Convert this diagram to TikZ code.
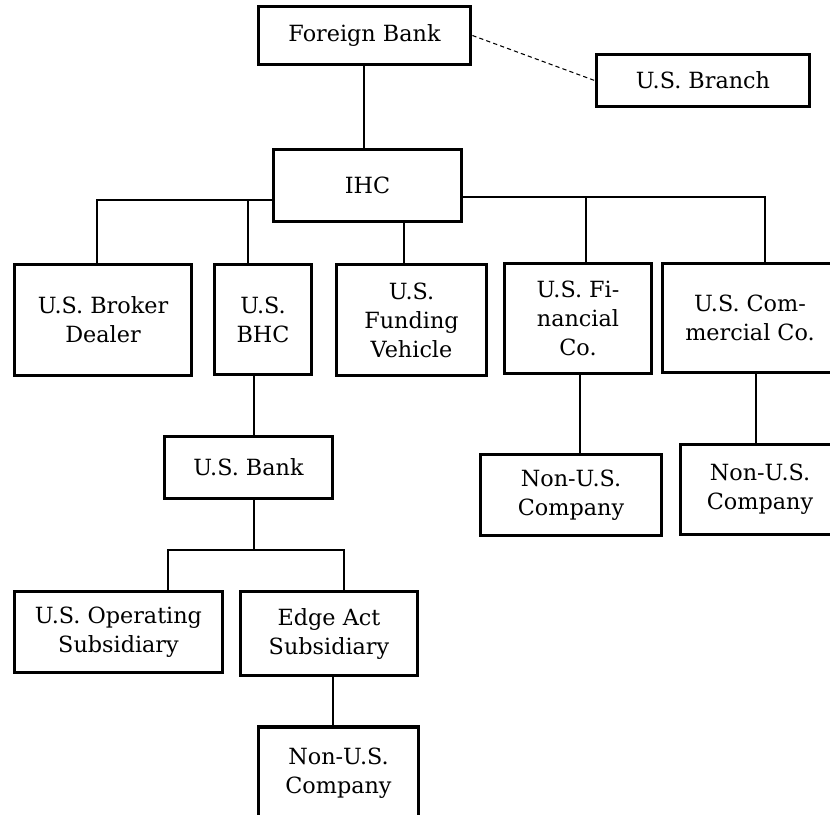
\documentclass[tikz,border=0pt]{standalone}
\usepackage{fontspec}
\setmainfont{DejaVu Serif}
\usepackage{tikz}
\usetikzlibrary{calc}
\tikzset{
  box/.style={draw=black, line width=2.2pt, align=center, inner sep=0pt, font=\fontsize{12.7}{16.5}\selectfont},
  link/.style={black, line width=1.2pt},
  dashlink/.style={black, line width=0.6pt, dash pattern=on 2.4pt off 1.8pt}}

\begin{document}
\begin{tikzpicture}[x=0.02cm, y=-0.02cm]
\clip (0,0) rectangle (830,814);
\node[box, minimum width=4.24cm, minimum height=1.16cm] (fb) at (364.5,35.5) {Foreign Bank};
\node[box, minimum width=4.26cm, minimum height=1.04cm] (branch) at (703,80.5) {U.S. Branch};
\node[box, minimum width=3.76cm, minimum height=1.44cm] (ihc) at (367.5,185.5) {IHC};
\node[box, minimum width=3.54cm, minimum height=2.22cm] (broker) at (103,320) {U.S. Broker\\Dealer};
\node[box, minimum width=1.94cm, minimum height=2.2cm] (bhc) at (263,319.5) {U.S.\\BHC};
\node[box, minimum width=3.0cm, minimum height=2.22cm] (funding) at (411.5,320) {U.S.\\Funding\\Vehicle};
\node[box, minimum width=2.94cm, minimum height=2.2cm] (fin) at (578,318.5) {U.S. Fi-\\nancial\\Co.};
\node[box, minimum width=3.5cm, minimum height=2.18cm] (comm) at (750,318) {U.S. Com-\\mercial Co.};
\node[box, minimum width=3.36cm, minimum height=1.24cm] (bank) at (248.5,467.5) {U.S. Bank};
\node[box, minimum width=3.62cm, minimum height=1.62cm] (finsub) at (571,495) {Non-U.S.\\Company};
\node[box, minimum width=3.18cm, minimum height=1.8cm] (commsub) at (760,489.5) {Non-U.S.\\Company};
\node[box, minimum width=4.16cm, minimum height=1.62cm] (opsub) at (118.5,632) {U.S. Operating\\Subsidiary};
\node[box, minimum width=3.54cm, minimum height=1.68cm] (edge) at (329,633.5) {Edge Act\\Subsidiary};
\node[box, minimum width=3.2cm, minimum height=1.84cm] (edgesub) at (338.5,773) {Non-U.S.\\Company};
\draw[dashlink] (fb.east) -- (branch.west);
\draw[link] (364,0 |- fb.south) -- (364,0 |- ihc.north);
\draw[link] (ihc.west |- 0,200) -| (97,0 |- broker.north);
\draw[link] (248,200) -- (248,0 |- bhc.north);
\draw[link] (404,0 |- ihc.south) -- (404,0 |- funding.north);
\draw[link] (ihc.east |- 0,197) -| (765,0 |- comm.north);
\draw[link] (586,197) -- (586,0 |- fin.north);
\draw[link] (580,0 |- fin.south) -- (580,0 |- finsub.north);
\draw[link] (756,0 |- comm.south) -- (756,0 |- commsub.north);
\draw[link] (254,0 |- bhc.south) -- (254,0 |- bank.north);
\draw[link] (254,0 |- bank.south) -- (254,550);
\draw[link] (168,0 |- opsub.north) |- (344,550) -- (344,0 |- edge.north);
\draw[link] (333,0 |- edge.south) -- (333,0 |- edgesub.north);
\end{tikzpicture}
\end{document}
